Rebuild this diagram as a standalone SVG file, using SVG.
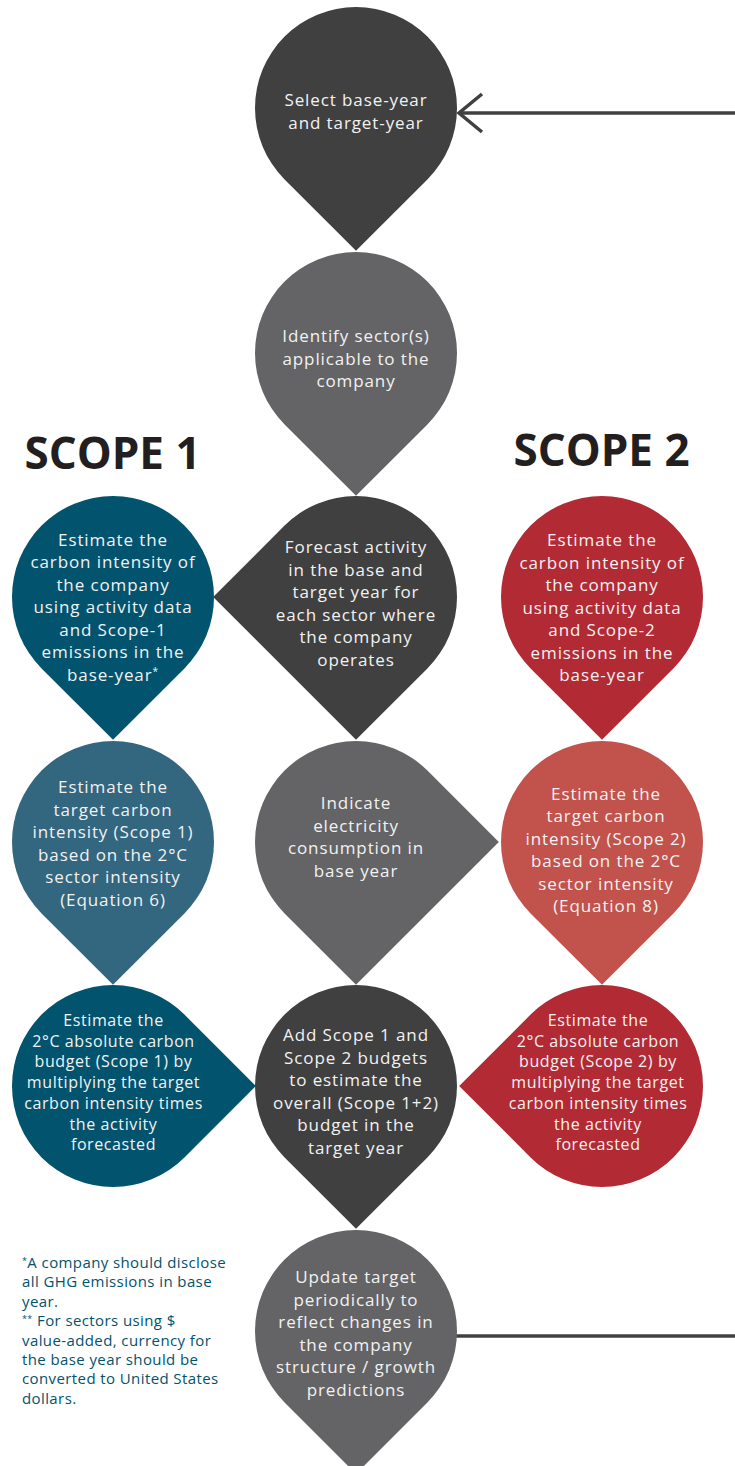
<svg xmlns="http://www.w3.org/2000/svg" width="735" height="1466" viewBox="0 0 735 1466">
<defs>
<style>
.t{font-family:"Open Sans","Liberation Sans",sans-serif;font-size:17px;fill:#F2F2F2;text-anchor:middle;letter-spacing:0.9px}
.s{font-size:16px;letter-spacing:0.6px}
.h{font-family:"Open Sans","Liberation Sans",sans-serif;font-size:44px;font-weight:700;fill:#231F20;text-anchor:middle}
.fn{font-family:"Open Sans","Liberation Sans",sans-serif;font-size:15px;fill:#02536E;letter-spacing:0.4px}
.dark{fill:#404040}.mid{fill:#646466}.teal{fill:#02536E}.teal2{fill:#33667F}.red{fill:#B22A34}.red2{fill:#C1524C}
.conn{stroke:#404040;stroke-width:3.5;fill:none}
</style>
<marker id="chev" viewBox="0 0 30 44" refX="26" refY="22" markerWidth="30" markerHeight="44" markerUnits="userSpaceOnUse" orient="auto">
<path d="M3,3 L26,22 L3,41" fill="none" stroke="#404040" stroke-width="3.5"/>
</marker>
</defs>
<rect width="735" height="1466" fill="#FFFFFF"/>

<g id="connectors">
<line class="conn" x1="735" y1="113" x2="459" y2="113" marker-end="url(#chev)"/>
<line class="conn" x1="456" y1="1336" x2="735" y2="1336"/>
</g>

<g id="title-scope1"><text class="h" x="112.5" y="469">SCOPE 1</text></g>
<g id="title-scope2"><text class="h" x="601.5" y="466">SCOPE 2</text></g>

<g id="n-select">
<path class="dark" d="M356,250.84 L284.58,179.42 A101,101 0 1 1 427.42,179.42 Z"/>
<text class="t"><tspan x="356" y="106">Select base-year</tspan><tspan x="356" y="129">and target-year</tspan></text>
</g>

<g id="n-identify">
<path class="mid" d="M356,495.84 L284.58,424.42 A101,101 0 1 1 427.42,424.42 Z"/>
<text class="t"><tspan x="356" y="342">Identify sector(s)</tspan><tspan x="356" y="364.5">applicable to the</tspan><tspan x="356" y="387">company</tspan></text>
</g>

<g id="n-forecast">
<path class="dark" d="M213.16,597 L284.58,525.58 A101,101 0 0 1 427.42,525.58 A101,101 0 0 1 427.42,668.42 L356,739.84 Z"/>
<text class="t"><tspan x="356" y="553">Forecast activity</tspan><tspan x="356" y="575.5">in the base and</tspan><tspan x="356" y="598">target year for</tspan><tspan x="356" y="620.5">each sector where</tspan><tspan x="356" y="643">the company</tspan><tspan x="356" y="665.5">operates</tspan></text>
</g>

<g id="n-indicate">
<path class="mid" d="M498.84,842 L356,984.84 L284.58,913.42 A101,101 0 0 1 284.58,770.58 A101,101 0 0 1 427.42,770.58 Z"/>
<text class="t"><tspan x="356" y="809">Indicate</tspan><tspan x="356" y="831.5">electricity</tspan><tspan x="356" y="854">consumption in</tspan><tspan x="356" y="876.5">base year</tspan></text>
</g>

<g id="n-add">
<path class="dark" d="M356,1228.84 L284.58,1157.42 A101,101 0 1 1 427.42,1157.42 Z"/>
<text class="t"><tspan x="356" y="1041">Add Scope 1 and</tspan><tspan x="356" y="1063.5">Scope 2 budgets</tspan><tspan x="356" y="1086">to estimate the</tspan><tspan x="356" y="1108.5">overall (Scope 1+2)</tspan><tspan x="356" y="1131">budget in the</tspan><tspan x="356" y="1153.5">target year</tspan></text>
</g>

<g id="n-update">
<path class="mid" d="M356,1473.84 L284.58,1402.42 A101,101 0 1 1 427.42,1402.42 Z"/>
<text class="t"><tspan x="356" y="1283">Update target</tspan><tspan x="356" y="1305.5">periodically to</tspan><tspan x="356" y="1328">reflect changes in</tspan><tspan x="356" y="1350.5">the company</tspan><tspan x="356" y="1373">structure / growth</tspan><tspan x="356" y="1395.5">predictions</tspan></text>
</g>

<g id="n-s1-intensity">
<path class="teal" d="M113,739.84 L41.58,668.42 A101,101 0 1 1 184.42,668.42 Z"/>
<text class="t"><tspan x="113" y="545.5">Estimate the</tspan><tspan x="113" y="568">carbon intensity of</tspan><tspan x="113" y="590.5">the company</tspan><tspan x="113" y="613">using activity data</tspan><tspan x="113" y="635.5">and Scope-1</tspan><tspan x="113" y="658">emissions in the</tspan><tspan x="113" y="680.5">base-year<tspan font-size="10" dy="-6">*</tspan></tspan></text>
</g>

<g id="n-s1-target">
<path class="teal2" d="M113,984.84 L41.58,913.42 A101,101 0 1 1 184.42,913.42 Z"/>
<text class="t"><tspan x="113" y="793">Estimate the</tspan><tspan x="113" y="815.5">target carbon</tspan><tspan x="113" y="838">intensity (Scope 1)</tspan><tspan x="113" y="860.5">based on the 2°C</tspan><tspan x="113" y="883">sector intensity</tspan><tspan x="113" y="905.5">(Equation 6)</tspan></text>
</g>

<g id="n-s1-budget">
<path class="teal" d="M255.84,1086 L184.42,1157.42 A101,101 0 1 1 184.42,1014.58 Z"/>
<text class="t s"><tspan x="113.5" y="1026">Estimate the</tspan><tspan x="113.5" y="1046.7">2°C absolute carbon</tspan><tspan x="113.5" y="1067.4">budget (Scope 1) by</tspan><tspan x="113.5" y="1088.1">multiplying the target</tspan><tspan x="113.5" y="1108.8">carbon intensity times</tspan><tspan x="113.5" y="1129.5">the activity</tspan><tspan x="113.5" y="1150.2">forecasted</tspan></text>
</g>

<g id="n-s2-intensity">
<path class="red" d="M602,739.84 L530.58,668.42 A101,101 0 1 1 673.42,668.42 Z"/>
<text class="t"><tspan x="602" y="546">Estimate the</tspan><tspan x="602" y="568.5">carbon intensity of</tspan><tspan x="602" y="591">the company</tspan><tspan x="602" y="613.5">using activity data</tspan><tspan x="602" y="636">and Scope-2</tspan><tspan x="602" y="658.5">emissions in the</tspan><tspan x="602" y="681">base-year</tspan></text>
</g>

<g id="n-s2-target">
<path class="red2" d="M602,984.84 L530.58,913.42 A101,101 0 1 1 673.42,913.42 Z"/>
<text class="t"><tspan x="606" y="799.5">Estimate the</tspan><tspan x="606" y="822">target carbon</tspan><tspan x="606" y="844.5">intensity (Scope 2)</tspan><tspan x="606" y="867">based on the 2°C</tspan><tspan x="606" y="889.5">sector intensity</tspan><tspan x="606" y="912">(Equation 8)</tspan></text>
</g>

<g id="n-s2-budget">
<path class="red" d="M459.16,1086 L530.58,1014.58 A101,101 0 1 1 530.58,1157.42 Z"/>
<text class="t s"><tspan x="598" y="1026">Estimate the</tspan><tspan x="598" y="1046.7">2°C absolute carbon</tspan><tspan x="598" y="1067.4">budget (Scope 2) by</tspan><tspan x="598" y="1088.1">multiplying the target</tspan><tspan x="598" y="1108.8">carbon intensity times</tspan><tspan x="598" y="1129.5">the activity</tspan><tspan x="598" y="1150.2">forecasted</tspan></text>
</g>

<g id="footnote">
<text class="fn"><tspan x="22" y="1268"><tspan font-size="9" dy="-4">*</tspan><tspan dy="4">A company should disclose</tspan></tspan><tspan x="22" y="1287.4">all GHG emissions in base</tspan><tspan x="22" y="1306.8">year.</tspan><tspan x="22" y="1326.2"><tspan font-size="9" dy="-4">**</tspan><tspan dy="4"> For sectors using $</tspan></tspan><tspan x="22" y="1345.6">value-added, currency for</tspan><tspan x="22" y="1365">the base year should be</tspan><tspan x="22" y="1384.4">converted to United States</tspan><tspan x="22" y="1403.8">dollars.</tspan></text>
</g>
</svg>
